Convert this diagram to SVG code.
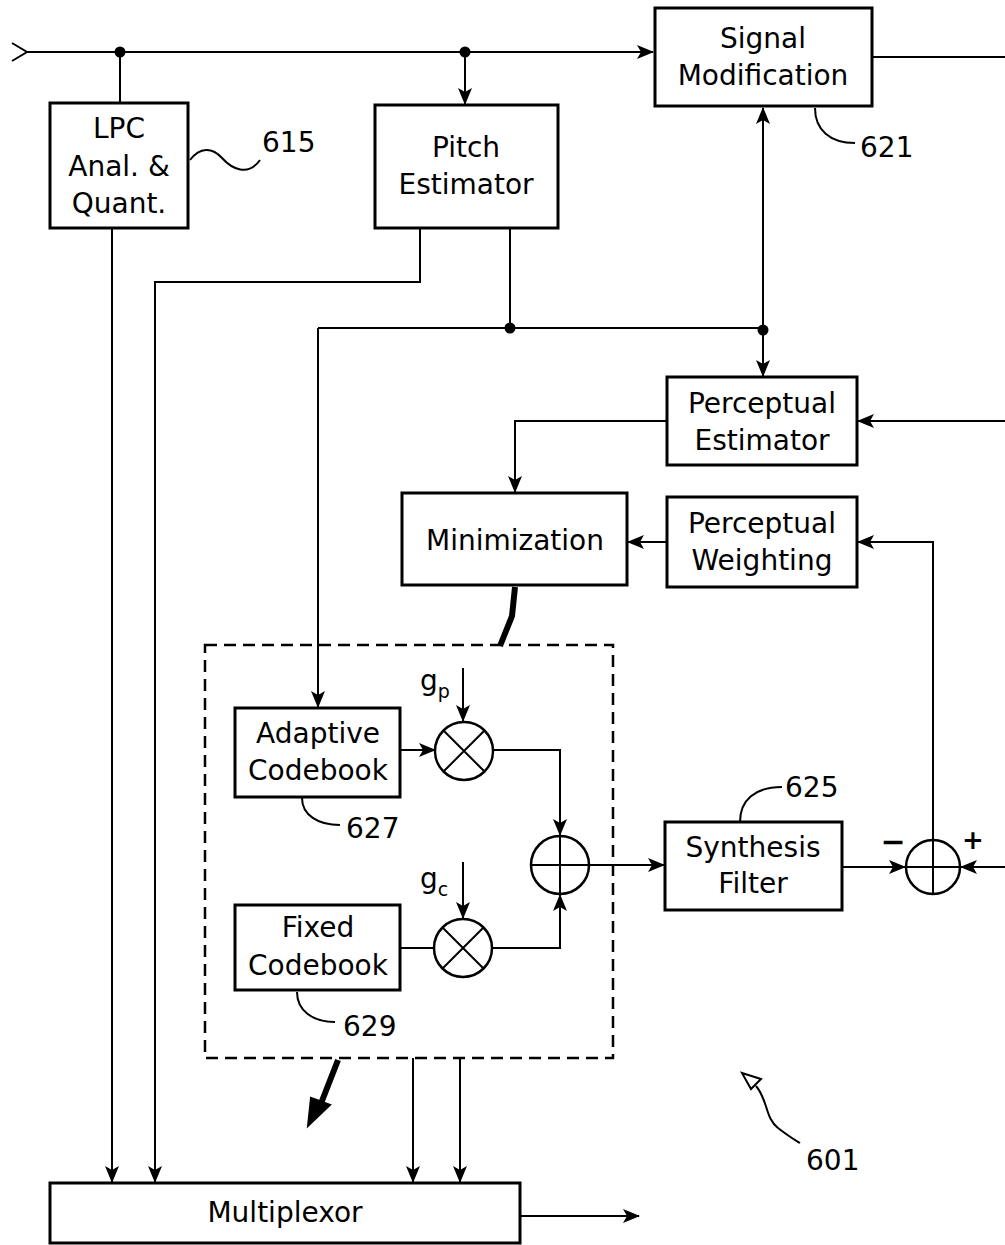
<svg xmlns="http://www.w3.org/2000/svg" width="1005" height="1245" viewBox="0 0 1005 1245">
<defs>
<style>
.box{fill:#fff;stroke:#000;stroke-width:3}
.ln{fill:none;stroke:#000;stroke-width:2}
.thick{fill:none;stroke:#000;stroke-width:6}
.t{font-family:"DejaVu Sans",sans-serif;font-size:28px;fill:#000;text-anchor:middle}
.n{font-family:"DejaVu Sans",sans-serif;font-size:28px;fill:#000}
.dot{fill:#000}
</style>
<marker id="ah" markerUnits="userSpaceOnUse" markerWidth="17" markerHeight="14" refX="16" refY="7" orient="auto">
<path d="M0,0 L17,7 L0,14 L4,7 Z" fill="#000"/>
</marker>
</defs>
<rect width="1005" height="1245" fill="#fff"/>

<g id="connectors">
<polyline class="ln" points="12,43 27,52 12,61"/>
<path class="ln" d="M27 52 H653" marker-end="url(#ah)"/>
<path class="ln" d="M120 52 V103"/>
<path class="ln" d="M465 52 V104" marker-end="url(#ah)"/>
<path class="ln" d="M872 57 H1005"/>
<path class="ln" d="M763 328 V108" marker-end="url(#ah)"/>
<path class="ln" d="M763 328 V376" marker-end="url(#ah)"/>
<path class="ln" d="M510 228 V328"/>
<path class="ln" d="M318 328 H763"/>
<path class="ln" d="M318 328 V707" marker-end="url(#ah)"/>
<path class="ln" d="M420 228 V282 H155 V1182" marker-end="url(#ah)"/>
<path class="ln" d="M112 228 V1182" marker-end="url(#ah)"/>
<path class="ln" d="M1005 421 H858" marker-end="url(#ah)"/>
<path class="ln" d="M667 421 H515 V492" marker-end="url(#ah)"/>
<path class="ln" d="M667 542 H628" marker-end="url(#ah)"/>
<path class="ln" d="M933 840 V542 H858" marker-end="url(#ah)"/>
<path class="thick" d="M515 587 L512 616 L500 646"/>
<path class="ln" d="M400 750 H435" marker-end="url(#ah)"/>
<path class="ln" d="M463 668 V721" marker-end="url(#ah)"/>
<path class="ln" d="M492 750 H560 V835" marker-end="url(#ah)"/>
<path class="ln" d="M463 862 V918" marker-end="url(#ah)"/>
<path class="ln" d="M400 948 H434"/>
<path class="ln" d="M492 948 H560 V895" marker-end="url(#ah)"/>
<path class="ln" d="M589 865 H664" marker-end="url(#ah)"/>
<path class="ln" d="M842 867 H905" marker-end="url(#ah)"/>
<path class="ln" d="M1005 867 H961" marker-end="url(#ah)"/>
<path class="ln" d="M413 1058 V1182" marker-end="url(#ah)"/>
<path class="ln" d="M460 1058 V1182" marker-end="url(#ah)"/>
<path class="thick" d="M338 1060 L320 1106"/>
<path d="M308 1126 L311 1098 L330 1105 Z" fill="#000" stroke="#000" stroke-width="2"/>
<path class="ln" d="M520 1216 H639" marker-end="url(#ah)"/>
<circle class="dot" cx="120" cy="52" r="5.5"/>
<circle class="dot" cx="465" cy="52" r="5.5"/>
<circle class="dot" cx="510" cy="328" r="5.5"/>
<circle class="dot" cx="763" cy="330" r="5.5"/>
</g>

<g id="refs">
<path class="ln" d="M190 160 C200 147, 212 147, 222 158 S 248 177, 260 160"/>
<text class="n" x="262" y="152">615</text>
<path class="ln" d="M815 108 C815 130, 830 143, 855 143"/>
<text class="n" x="860" y="157">621</text>
<path class="ln" d="M302 798 C302 815, 318 825, 340 825"/>
<text class="n" x="346" y="838">627</text>
<path class="ln" d="M297 992 C297 1010, 312 1022, 335 1022"/>
<text class="n" x="343" y="1036">629</text>
<path class="ln" d="M740 822 C740 800, 755 787, 782 787"/>
<text class="n" x="785" y="797">625</text>
<path class="ln" d="M756 1086 C768 1100, 765 1118, 778 1128 S 795 1140, 800 1143"/>
<path class="ln" d="M742 1073 L761 1079 L751 1089 Z"/>
<text class="n" x="806" y="1170">601</text>
</g>

<g id="lpc">
<rect class="box" x="50" y="103" width="138" height="125"/>
<text class="t" x="119" y="138">LPC</text>
<text class="t" x="119" y="176">Anal. &amp;</text>
<text class="t" x="119" y="213">Quant.</text>
</g>

<g id="pitch">
<rect class="box" x="375" y="105" width="183" height="123"/>
<text class="t" x="466" y="157">Pitch</text>
<text class="t" x="466" y="194">Estimator</text>
</g>

<g id="sigmod">
<rect class="box" x="655" y="8" width="217" height="98"/>
<text class="t" x="763" y="48">Signal</text>
<text class="t" x="763" y="85">Modification</text>
</g>

<g id="perc-est">
<rect class="box" x="667" y="377" width="190" height="88"/>
<text class="t" x="762" y="413">Perceptual</text>
<text class="t" x="762" y="450">Estimator</text>
</g>

<g id="minim">
<rect class="box" x="402" y="493" width="225" height="92"/>
<text class="t" x="515" y="550">Minimization</text>
</g>

<g id="perc-wt">
<rect class="box" x="667" y="497" width="190" height="90"/>
<text class="t" x="762" y="533">Perceptual</text>
<text class="t" x="762" y="570">Weighting</text>
</g>

<g id="excitation">
<rect x="205" y="645" width="408" height="413" fill="none" stroke="#000" stroke-width="2.5" stroke-dasharray="12 7"/>
</g>

<g id="adaptive">
<rect class="box" x="235" y="708" width="165" height="89"/>
<text class="t" x="318" y="743">Adaptive</text>
<text class="t" x="318" y="780">Codebook</text>
</g>

<g id="fixed">
<rect class="box" x="235" y="905" width="165" height="85"/>
<text class="t" x="318" y="937">Fixed</text>
<text class="t" x="318" y="975">Codebook</text>
</g>

<g id="mult-p">
<circle cx="464" cy="751" r="29" fill="#fff" stroke="#000" stroke-width="2.5"/>
<path class="ln" d="M443.5 730.5 L484.5 771.5 M484.5 730.5 L443.5 771.5"/>
<text class="n" x="420" y="690">g<tspan font-size="19" dy="8">p</tspan></text>
</g>

<g id="mult-c">
<circle cx="463" cy="948" r="29" fill="#fff" stroke="#000" stroke-width="2.5"/>
<path class="ln" d="M442.5 927.5 L483.5 968.5 M483.5 927.5 L442.5 968.5"/>
<text class="n" x="420" y="888">g<tspan font-size="19" dy="8">c</tspan></text>
</g>

<g id="sum1">
<circle cx="560" cy="865" r="29" fill="#fff" stroke="#000" stroke-width="2.5"/>
<path class="ln" d="M531 865 H589 M560 836 V894"/>
</g>

<g id="synth">
<rect class="box" x="665" y="822" width="177" height="88"/>
<text class="t" x="753" y="857">Synthesis</text>
<text class="t" x="753" y="893">Filter</text>
</g>

<g id="sum2">
<circle cx="933" cy="867" r="27" fill="#fff" stroke="#000" stroke-width="2.5"/>
<path class="ln" d="M906 867 H960 M933 840 V894"/>
<text x="893" y="852" font-family="DejaVu Sans,sans-serif" font-size="30" font-weight="bold" text-anchor="middle">−</text>
<text x="973" y="849" font-family="DejaVu Sans,sans-serif" font-size="26" font-weight="bold" text-anchor="middle">+</text>
</g>

<g id="mux">
<rect class="box" x="50" y="1183" width="470" height="60"/>
<text class="t" x="285" y="1222" font-size="26">Multiplexor</text>
</g>
</svg>
